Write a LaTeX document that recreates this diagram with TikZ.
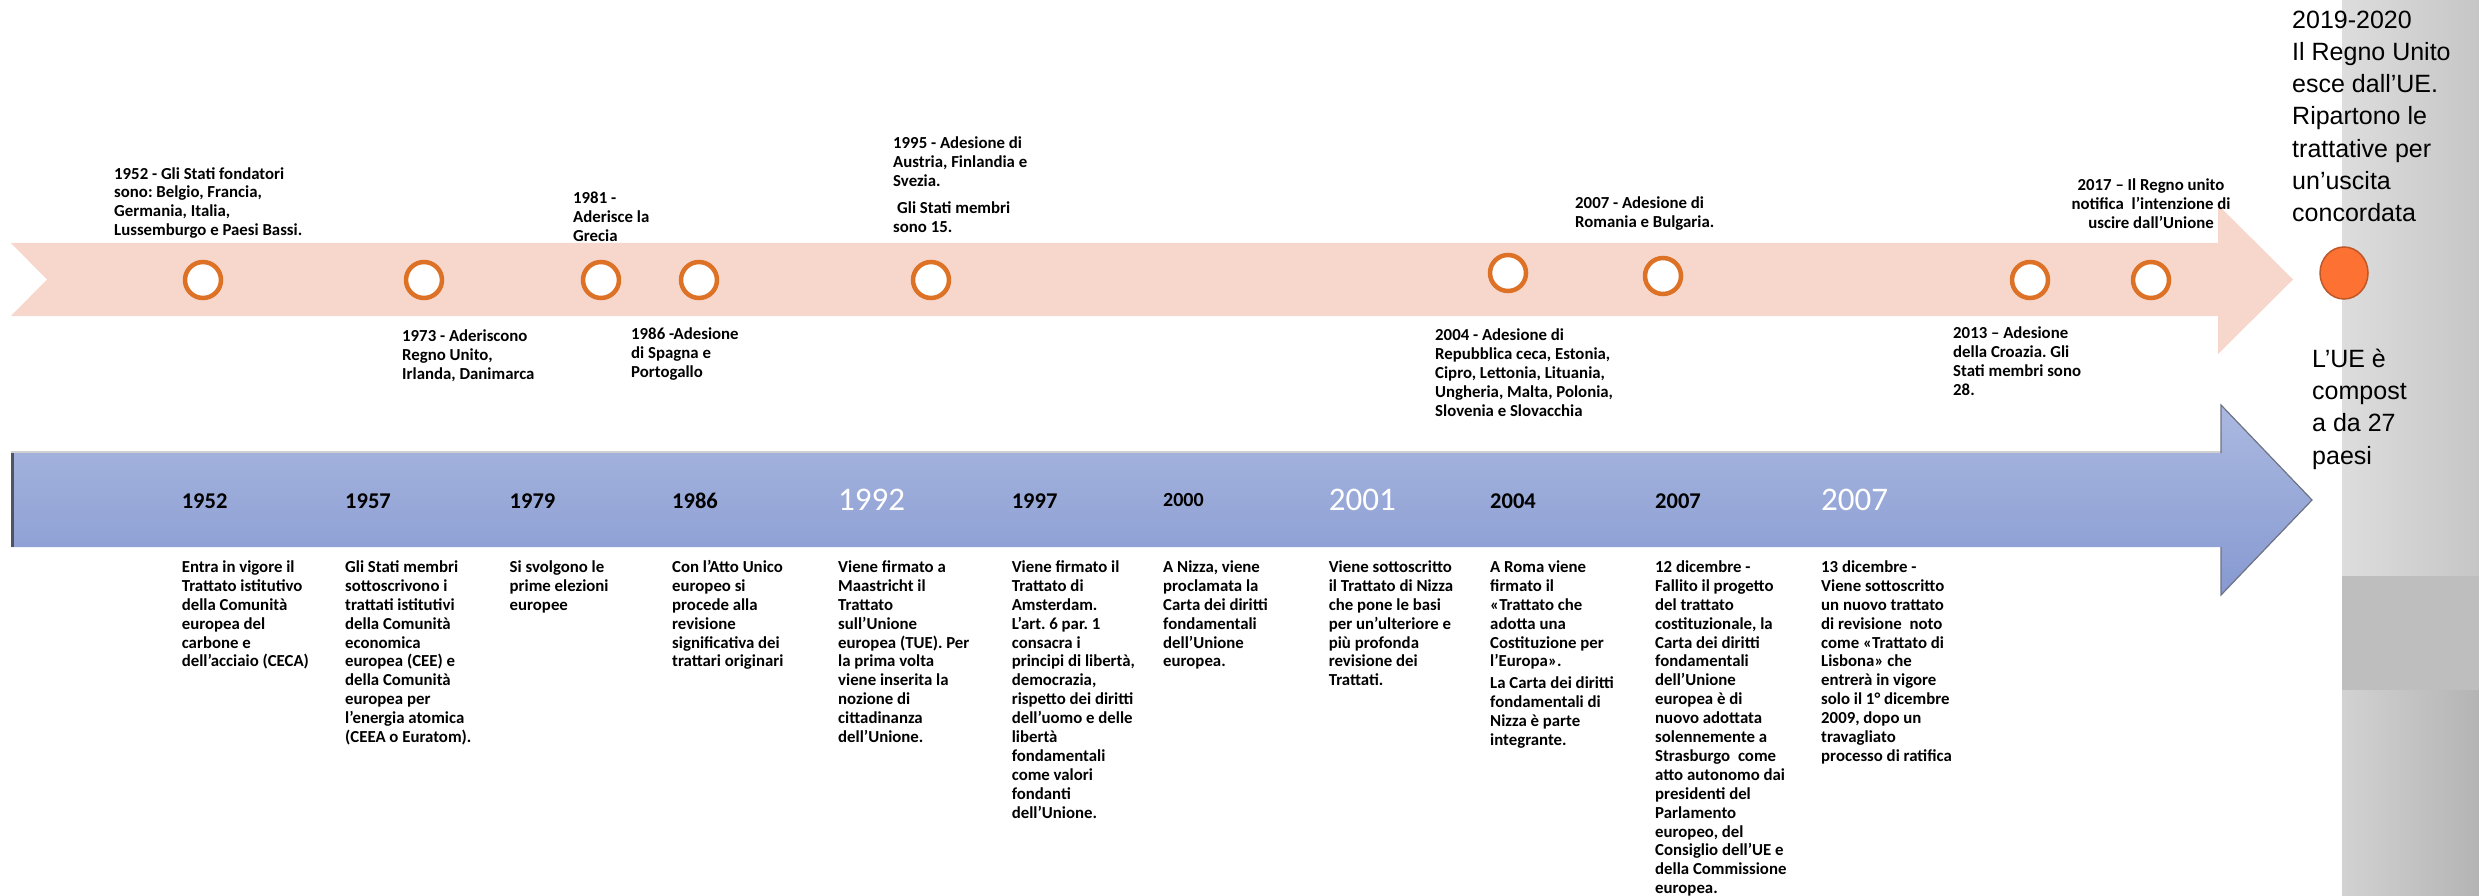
\documentclass[tikz,border=0pt]{standalone}
\usepackage{fontspec}
\setmainfont{Carlito}
\newfontfamily\arialf{Liberation Sans}
\usetikzlibrary{shapes.geometric}
\frenchspacing
\definecolor{pinkband}{RGB}{247,214,204}
\definecolor{ringc}{RGB}{221,113,38}
\definecolor{bluetop}{RGB}{171,185,224}
\definecolor{bluebot}{RGB}{134,153,209}
\definecolor{dotfill}{RGB}{253,113,51}
\definecolor{dotedge}{RGB}{190,88,40}
\definecolor{darkedge}{RGB}{80,84,96}
\definecolor{headedge}{RGB}{110,115,130}
\definecolor{gA}{RGB}{221,221,221}
\definecolor{gB}{RGB}{198,198,198}
\definecolor{gM}{RGB}{190,190,190}
\definecolor{gC}{RGB}{210,210,210}
\definecolor{gD}{RGB}{180,180,180}
\begin{document}
\frenchspacing
\begin{tikzpicture}[x=1pt,y=-1pt,
  lbl/.style={anchor=north west, inner sep=0pt, align=left, text=black,
    font=\fontsize{16.8}{18.9}\selectfont\bfseries},
  lblc/.style={lbl, anchor=north, align=center},
  yr/.style={anchor=base west, inner sep=0pt, text=black,
    font=\fontsize{22.5}{27}\selectfont\bfseries},
  yrs/.style={yr, font=\fontsize{20}{24}\selectfont\bfseries},
  yrw/.style={anchor=base west, inner sep=0pt, text=white,
    font=\fontsize{33}{40}\selectfont},
  ring/.style={circle, draw=ringc, line width=4.5pt, fill=white,
    minimum size=36pt, inner sep=0pt},
  side/.style={anchor=north west, inner sep=0pt, align=left, text=black,
    font=\arialf\fontsize{25}{32.2}\selectfont}
]
\useasboundingbox (0,0) rectangle (2479,896);

% grey strip on the right
\shade[left color=gA, right color=gB] (2342,0) rectangle (2479,576);
\fill[gM] (2342,576) rectangle (2479,690);
\shade[left color=gC, right color=gD] (2342,690) rectangle (2479,896);

% pink arrow
\fill[pinkband] (11,243) -- (2218,243) -- (2218,205) -- (2293,279.5)
  -- (2218,354) -- (2218,316) -- (11,316) -- (47,279.5) -- cycle;

% blue arrow
\draw[black!18, line width=1.5pt] (11,452) -- (2221,452);
\shade[top color=bluetop, bottom color=bluebot] (11,453) -- (2221,453)
  -- (2221,405) -- (2312,500) -- (2221,595) -- (2221,547) -- (11,547) -- cycle;
\draw[darkedge, line width=2.5pt] (12.5,453) -- (12.5,547);
\draw[headedge, line width=1.2pt] (2221,453) -- (2221,405) -- (2312,500)
  -- (2221,595) -- (2221,547);

% rings on the pink arrow
\node[ring] (c1) at (203,280) {};
\node[ring] (c2) at (424,280) {};
\node[ring] (c3) at (601,280) {};
\node[ring] (c4) at (699,280) {};
\node[ring] (c5) at (931,280) {};
\node[ring] (c6) at (1508,273) {};
\node[ring] (c7) at (1663,276) {};
\node[ring] (c8) at (2030,280) {};
\node[ring] (c9) at (2151,280) {};

% orange dot
\node[ellipse, draw=dotedge, fill=dotfill, line width=1.5pt,
  minimum width=48pt, minimum height=52pt, inner sep=0pt] (dot) at (2344,273) {};

% labels above / below the pink arrow
\node[lbl] (t1952) at (114,165.6) {\strut 1952 - Gli Stati fondatori\\sono: Belgio, Francia,\\Germania, Italia,\\Lussemburgo e Paesi Bassi.};
\node[lbl] (t1981) at (573,190.3) {\strut 1981 -\\Aderisce la\\Grecia};
\node[lbl] (t1995) at (893,135) {\strut 1995 - Adesione di\\Austria, Finlandia e\\Svezia.\\[8pt]\hspace{4pt}Gli Stati membri\\sono 15.};
\node[lbl] (t2007a) at (1575,195) {\strut 2007 - Adesione di\\Romania e Bulgaria.};
\node[lblc] (t2017) at (2151,177.3) {\strut 2017 – Il Regno unito\\notifica\hspace{4pt} l'intenzione di\\uscire dall'Unione};
\node[lbl] (t1973) at (402,328.3) {\strut 1973 - Aderiscono\\Regno Unito,\\Irlanda, Danimarca};
\node[lbl] (t1986) at (631,326.5) {\strut 1986 -Adesione\\di Spagna e\\Portogallo};
\node[lbl] (t2004a) at (1435,327.3) {\strut 2004 - Adesione di\\Repubblica ceca, Estonia,\\Cipro, Lettonia, Lituania,\\Ungheria, Malta, Polonia,\\Slovenia e Slovacchia};
\node[lbl] (t2013) at (1953,325.3) {\strut 2013 – Adesione\\della Croazia. Gli\\Stati membri sono\\28.};

% years on the blue arrow
\node[yr] (y1952) at (181.6,508) {1952};
\node[yr] (y1957) at (345,508) {1957};
\node[yr] (y1979) at (509.5,508) {1979};
\node[yr] (y1986) at (672,508) {1986};
\node[yrw] (y1992) at (838,510) {1992};
\node[yr] (y1997) at (1011.6,508) {1997};
\node[yrs] (y2000) at (1163,506) {2000};
\node[yrw] (y2001) at (1328.6,510) {2001};
\node[yr] (y2004) at (1490,508) {2004};
\node[yr] (y2007a) at (1655,508) {2007};
\node[yrw] (y2007b) at (1821,510) {2007};

% descriptions under the blue arrow
\node[lbl] (d1952) at (181.6,559) {\strut Entra in vigore il\\Trattato istitutivo\\della Comunità\\europea del\\carbone e\\dell'acciaio (CECA)};
\node[lbl] (d1957) at (345,559) {\strut Gli Stati membri\\sottoscrivono i\\trattati istitutivi\\della Comunità\\economica\\europea (CEE) e\\della Comunità\\europea per\\l'energia atomica\\(CEEA o Euratom).};
\node[lbl] (d1979) at (509.5,559) {\strut Si svolgono le\\prime elezioni\\europee};
\node[lbl] (d1986) at (672,559) {\strut Con l'Atto Unico\\europeo si\\procede alla\\revisione\\significativa dei\\trattari originari};
\node[lbl] (d1992) at (838,559) {\strut Viene firmato a\\Maastricht il\\Trattato\\sull'Unione\\europea (TUE). Per\\la prima volta\\viene inserita la\\nozione di\\cittadinanza\\dell'Unione.};
\node[lbl] (d1997) at (1011.6,559) {\strut Viene firmato il\\Trattato di\\Amsterdam.\\L'art. 6 par. 1\\consacra i\\principi di libertà,\\democrazia,\\rispetto dei diritti\\dell'uomo e delle\\libertà\\fondamentali\\come valori\\fondanti\\dell'Unione.};
\node[lbl] (d2000) at (1163,559) {\strut A Nizza, viene\\proclamata la\\Carta dei diritti\\fondamentali\\dell'Unione\\europea.};
\node[lbl] (d2001) at (1328.6,559) {\strut Viene sottoscritto\\il Trattato di Nizza\\che pone le basi\\per un'ulteriore e\\più profonda\\revisione dei\\Trattati.};
\node[lbl] (d2004) at (1490,559) {\strut A Roma viene\\firmato il\\«Trattato che\\adotta una\\Costituzione per\\l'Europa».\\[3pt]La Carta dei diritti\\fondamentali di\\Nizza è parte\\integrante.};
\node[lbl] (d2007a) at (1655,559) {\strut 12 dicembre -\\Fallito il progetto\\del trattato\\costituzionale, la\\Carta dei diritti\\fondamentali\\dell'Unione\\europea è di\\nuovo adottata\\solennemente a\\Strasburgo\hspace{4pt} come\\atto autonomo dai\\presidenti del\\Parlamento\\europeo, del\\Consiglio dell'UE e\\della Commissione\\europea.};
\node[lbl] (d2007b) at (1821,559) {\strut 13 dicembre -\\Viene sottoscritto\\un nuovo trattato\\di revisione\hspace{4pt} noto\\come «Trattato di\\Lisbona» che\\entrerà in vigore\\solo il 1° dicembre\\2009, dopo un\\travagliato\\processo di ratifica};

% texts on the right
\node[side] (s1) at (2292,5.5) {\strut 2019-2020\\Il Regno Unito\\esce dall’UE.\\Ripartono le\\trattative per\\un’uscita\\concordata};
\node[side] (s2) at (2312,344.7) {\strut L’UE è\\compost\\a da 27\\paesi};
\end{tikzpicture}
\end{document}
